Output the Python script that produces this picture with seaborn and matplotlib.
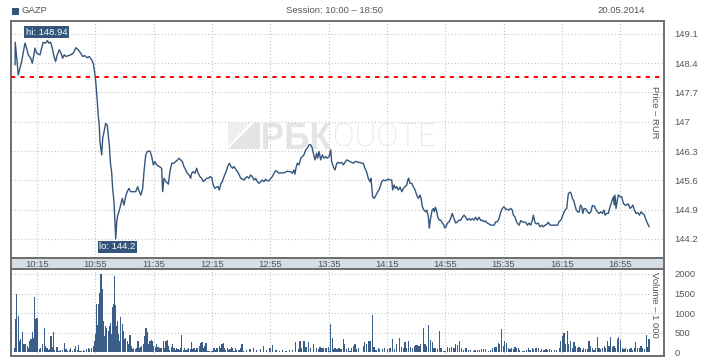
import matplotlib
matplotlib.use('Agg')
import matplotlib.pyplot as plt
import seaborn as sns
import pandas as pd
from matplotlib.patches import Rectangle, Polygon, PathPatch
from matplotlib.textpath import TextPath
from matplotlib.font_manager import FontProperties
from matplotlib.transforms import Affine2D, IdentityTransform

# ---------------- data ----------------
price_t = [0.0, 0.1, 0.9, 2.2, 4.5, 6.8, 7.9, 9.0, 10.7, 11.8, 12.9, 13.6, 14.8, 17.1, 18.2, 19.3, 21.0, 22.1, 23.2, 24.4,
           25.5, 26.7, 27.8, 28.9, 30.3, 31.5, 32.6, 33.7, 34.9, 36.5, 38.1, 39.9, 41.7, 43.3, 45.0, 46.3, 47.9, 49.5, 50.9, 52.5,
           53.6, 54.8, 55.5, 56.4, 57.0, 57.7, 58.2, 59.4, 60.1, 61.0, 62.1, 63.2, 63.9, 64.6, 65.5, 66.2, 66.9, 67.8, 68.5, 69.0,
           69.7, 70.4, 71.2, 72.4, 73.5, 74.7, 75.8, 76.9, 78.1, 79.3, 81.1, 82.7, 84.1, 85.2, 86.3, 87.5, 88.4, 89.6, 90.7, 92.5,
           93.7, 94.8, 95.9, 97.1, 98.9, 100.5, 101.2, 102.1, 103.5, 105.1, 106.2, 107.4, 109.0, 110.1, 111.5, 112.4, 113.6, 114.7, 115.8, 117.0,
           118.1, 119.3, 120.4, 121.1, 122.2, 123.4, 124.5, 125.6, 126.8, 128.0, 129.1, 130.2, 131.4, 132.5, 133.7, 134.8, 135.9, 137.1, 138.2, 139.3,
           140.0, 141.2, 142.1, 143.3, 144.7, 145.8, 146.9, 148.1, 149.2, 150.1, 151.3, 152.4, 153.5, 154.7, 155.8, 157.0, 158.1, 159.2, 160.4, 161.5,
           162.7, 163.8, 165.0, 166.1, 167.3, 168.4, 169.5, 170.7, 171.8, 172.9, 174.1, 175.3, 176.4, 177.6, 178.7, 179.8, 181.0, 182.2, 183.3, 184.4,
           185.6, 186.7, 187.9, 189.0, 190.1, 191.3, 191.9, 192.6, 193.5, 194.7, 195.9, 197.0, 198.1, 199.3, 200.4, 201.6, 202.7, 203.8, 204.5, 205.7,
           206.8, 207.5, 208.4, 209.6, 210.7, 211.9, 213.0, 214.1, 215.3, 216.4, 217.1, 218.2, 218.7, 219.4, 220.6, 221.7, 222.8, 224.0, 225.1, 226.2,
           227.4, 228.5, 229.7, 230.8, 231.9, 233.1, 234.2, 235.3, 236.5, 237.6, 238.8, 239.9, 241.0, 242.2, 243.4, 244.0, 244.7, 245.2, 246.3, 247.5,
           248.7, 249.8, 250.7, 251.4, 252.6, 253.7, 254.9, 256.0, 257.1, 258.3, 258.9, 259.9, 260.8, 261.7, 262.8, 264.0, 265.2, 266.3, 267.4, 268.6,
           269.3, 269.9, 270.8, 272.0, 273.1, 274.3, 275.4, 276.5, 277.7, 278.4, 279.3, 280.4, 281.6, 282.3, 283.4, 284.1, 284.6, 285.3, 286.0, 286.9,
           287.5, 288.2, 289.2, 289.8, 290.9, 291.9, 293.0, 294.1, 294.8, 295.5, 296.4, 297.6, 298.7, 299.8, 301.0, 302.2, 303.3, 304.4, 305.6, 306.7,
           307.9, 309.0, 310.1, 311.3, 312.5, 313.6, 314.7, 315.9, 317.0, 318.2, 319.3, 320.4, 321.6, 322.7, 323.8, 325.0, 326.2, 327.3, 328.5, 329.6,
           330.7, 331.9, 333.1, 334.1, 335.3, 336.4, 337.6, 338.7, 339.9, 341.0, 341.7, 342.8, 343.5, 344.4, 345.6, 346.8, 347.9, 349.0, 350.2, 351.3,
           352.5, 353.6, 354.7, 355.4, 356.6, 357.7, 358.8, 360.0, 361.2, 362.3, 363.4, 364.6, 365.7, 366.9, 368.5, 370.3, 372.1, 373.0, 374.2, 374.9,
           376.0, 377.2, 378.3, 379.0, 379.5, 380.6, 381.3, 382.2, 383.3, 384.5, 385.6, 386.8, 387.7, 388.6, 389.3, 390.2, 391.4, 392.5, 393.7, 394.8,
           395.9, 397.1, 398.2, 399.3, 400.5, 401.6, 402.7, 403.9, 404.6, 405.7, 406.8, 408.0, 409.2, 410.3, 410.9, 411.4, 412.1, 413.0, 413.7, 414.8,
           416.0, 417.1, 418.3, 419.4, 420.5, 421.7, 422.9, 423.6, 424.7, 425.8, 427.0, 428.1, 429.3, 430.2, 431.3, 432.5, 433.6, 434.8]
price_v = [148.36, 148.90, 148.60, 148.12, 148.44, 148.88, 148.76, 148.60, 148.52, 148.40, 148.60, 148.76, 148.64, 148.60, 148.76, 148.90, 148.88, 148.94, 148.88, 148.90,
           148.76, 148.56, 148.44, 148.60, 148.72, 148.64, 148.52, 148.60, 148.56, 148.58, 148.60, 148.64, 148.77, 148.72, 148.64, 148.56, 148.58, 148.53, 148.56, 148.48,
           148.40, 148.12, 147.88, 147.48, 147.16, 146.92, 146.52, 146.21, 146.61, 146.76, 146.96, 146.92, 146.68, 146.45, 145.97, 145.81, 145.41, 145.09, 144.61, 144.20,
           144.61, 144.77, 144.85, 145.01, 145.17, 145.01, 145.21, 145.33, 145.41, 145.33, 145.33, 145.33, 145.45, 145.33, 145.25, 145.41, 145.81, 146.21, 146.29, 146.30,
           146.17, 145.97, 146.05, 145.97, 145.93, 145.89, 145.33, 145.65, 145.57, 145.51, 145.81, 146.01, 146.01, 146.05, 146.09, 146.13, 146.09, 146.05, 145.93, 145.85,
           145.77, 145.73, 145.65, 145.77, 145.81, 145.77, 145.89, 145.77, 145.69, 145.65, 145.57, 145.61, 145.65, 145.65, 145.69, 145.67, 145.49, 145.41, 145.44, 145.45,
           145.37, 145.53, 145.57, 145.69, 145.81, 145.93, 146.01, 145.93, 145.89, 145.93, 145.87, 145.81, 145.75, 145.65, 145.63, 145.61, 145.66, 145.69, 145.65, 145.73,
           145.69, 145.61, 145.65, 145.57, 145.53, 145.57, 145.61, 145.57, 145.63, 145.59, 145.59, 145.65, 145.69, 145.77, 145.83, 145.81, 145.77, 145.78, 145.78, 145.78,
           145.80, 145.82, 145.81, 145.81, 145.77, 145.85, 145.75, 145.89, 146.01, 145.97, 146.13, 146.17, 146.21, 146.33, 146.37, 146.45, 146.45, 146.37, 146.25, 146.09,
           146.25, 146.13, 146.29, 146.09, 146.21, 146.13, 146.17, 146.13, 146.17, 146.33, 146.05, 145.93, 145.89, 145.85, 146.01, 146.03, 146.01, 146.03, 145.97, 146.03,
           146.09, 146.07, 146.05, 146.03, 146.01, 146.05, 146.05, 146.03, 146.03, 146.01, 146.01, 145.89, 145.81, 145.65, 145.57, 145.65, 145.41, 145.21, 145.17, 145.25,
           145.33, 145.39, 145.49, 145.57, 145.61, 145.59, 145.61, 145.63, 145.61, 145.61, 145.37, 145.49, 145.41, 145.45, 145.37, 145.44, 145.33, 145.41, 145.45, 145.49,
           145.61, 145.65, 145.53, 145.53, 145.45, 145.37, 145.25, 145.17, 145.25, 145.17, 144.97, 144.89, 144.85, 144.89, 144.73, 144.46, 144.61, 144.77, 144.89, 144.93,
           144.85, 144.96, 144.85, 144.73, 144.65, 144.65, 144.58, 144.53, 144.46, 144.49, 144.58, 144.61, 144.69, 144.81, 144.69, 144.58, 144.61, 144.65, 144.65, 144.72,
           144.77, 144.72, 144.65, 144.69, 144.65, 144.69, 144.65, 144.72, 144.65, 144.72, 144.64, 144.65, 144.61, 144.63, 144.58, 144.56, 144.53, 144.53, 144.53, 144.61,
           144.61, 144.69, 144.85, 144.93, 144.97, 144.91, 144.91, 144.89, 144.93, 144.89, 144.77, 144.73, 144.65, 144.58, 144.53, 144.64, 144.61, 144.60, 144.60, 144.53,
           144.58, 144.53, 144.65, 144.77, 144.58, 144.56, 144.58, 144.49, 144.53, 144.49, 144.53, 144.55, 144.60, 144.53, 144.53, 144.53, 144.53, 144.61, 144.65, 144.69,
           144.81, 144.89, 144.93, 145.17, 145.29, 145.32, 145.29, 145.17, 145.09, 144.93, 144.85, 144.84, 145.01, 144.97, 144.81, 144.93, 144.92, 144.85, 144.81, 144.85,
           145.00, 144.99, 144.91, 144.85, 144.81, 144.85, 144.81, 144.89, 144.77, 144.81, 144.81, 144.97, 145.09, 145.21, 145.01, 145.25, 144.93, 145.13, 145.25, 145.21,
           145.21, 145.05, 145.01, 145.01, 145.04, 144.93, 144.97, 145.01, 144.89, 144.81, 144.83, 144.77, 144.85, 144.81, 144.79, 144.67, 144.58, 144.49]

vol_t = [-0.3, 0.4, 1.1, 2.2, 2.9, 4.0, 4.9, 6.1, 7.2, 8.4, 9.3, 10.2, 10.9, 11.8, 12.5, 13.2, 13.9, 15.0, 15.5, 16.6,
         17.7, 18.9, 20.0, 20.9, 21.9, 23.0, 23.9, 24.6, 25.3, 26.2, 26.9, 28.3, 29.2, 30.1, 31.2, 32.4, 33.7, 34.9, 36.0, 37.2,
         38.3, 39.5, 40.6, 41.7, 42.9, 43.3, 44.5, 45.6, 46.8, 47.9, 49.1, 50.2, 51.3, 52.5, 53.6, 54.8, 55.5, 56.1, 56.8, 57.5,
         58.2, 58.9, 59.6, 60.3, 61.2, 62.1, 63.0, 63.9, 64.6, 65.5, 66.2, 66.9, 67.6, 68.3, 69.0, 69.6, 70.3, 71.0, 71.7, 72.6,
         73.5, 74.2, 75.1, 76.0, 76.9, 77.9, 78.8, 79.7, 80.6, 81.5, 82.4, 83.3, 84.3, 85.2, 86.1, 87.0, 87.9, 88.8, 89.8, 90.7,
         91.6, 92.5, 93.4, 94.3, 95.2, 96.2, 97.1, 98.0, 98.9, 99.8, 100.7, 101.6, 102.6, 103.5, 104.4, 105.3, 106.2, 107.1, 108.0, 109.0,
         109.9, 110.8, 111.7, 112.6, 113.5, 114.4, 115.4, 116.3, 117.2, 118.1, 119.0, 120.0, 120.9, 121.8, 122.7, 123.6, 124.5, 125.4, 126.3, 127.3,
         128.2, 129.1, 130.0, 130.9, 131.8, 132.7, 133.6, 134.6, 135.5, 136.4, 137.3, 138.2, 139.1, 140.1, 141.0, 141.9, 142.8, 143.7, 144.6, 145.5,
         146.5, 147.4, 148.3, 149.2, 150.1, 151.0, 151.9, 152.9, 153.8, 154.7, 155.6, 156.5,
         158.8, 161.1, 163.4, 165.7, 168.0, 170.2, 172.5, 174.8, 176.6, 178.9, 181.2, 183.5, 185.8, 188.1, 190.3, 192.6, 194.2, 195.4, 196.7, 198.1,
         199.5, 201.1, 202.7, 204.5, 206.4, 208.0, 209.1, 210.5, 211.8, 213.2, 214.8, 215.7, 216.6, 217.6, 218.5, 219.4, 220.3, 221.2, 222.1, 223.0,
         224.0, 225.1, 226.2, 227.4, 228.5, 229.7, 230.8, 232.0, 233.1, 234.2, 235.4,
         238.8, 239.9, 241.1, 242.7, 243.8, 245.0, 246.1, 247.5, 249.1, 250.2, 251.8, 253.6, 255.2, 257.1, 258.7, 260.1, 261.6, 263.5, 264.8, 266.2,
         267.4, 268.5, 269.7, 271.3, 272.4, 273.8, 274.9, 275.8, 277.0, 278.1, 279.9, 281.1, 282.2, 283.8, 285.0, 286.1, 287.3, 288.4, 289.8, 290.9,
         292.1, 293.7, 294.8, 296.4, 297.8, 299.4, 301.0, 302.3, 303.5, 304.6, 306.2, 307.8, 309.2, 310.8, 312.4, 314.2, 315.4, 317.0, 318.3, 320.0,
         321.5, 322.9, 324.5, 326.1, 327.5, 329.1, 330.2, 331.4, 332.5, 333.7, 334.8, 335.9, 337.1, 338.2, 339.4, 340.5, 341.7, 342.8, 344.0, 345.1,
         346.2, 347.8, 349.0, 350.4, 352.0, 353.1, 354.7, 355.8, 357.2, 358.8, 360.0, 361.1, 362.7, 364.1, 365.0, 366.4, 368.0, 369.6, 371.4, 373.2,
         374.1, 375.3, 376.4, 377.6, 378.7, 379.8, 381.0, 382.1, 383.3, 384.4, 385.6, 386.7, 387.8, 389.0, 390.1, 391.3, 392.4, 393.6, 394.7, 395.8,
         397.0, 398.1, 399.3, 400.4, 401.6, 402.7, 403.9, 405.0, 406.1, 407.3, 408.4, 409.6, 410.7, 411.9, 413.0, 414.1, 415.3, 416.4, 417.6, 418.7,
         419.9, 421.2, 422.4, 423.5, 424.7, 425.6, 426.7, 427.9, 429.2, 430.4, 431.5, 432.7, 433.6, 434.7]
vol_v = [110, 850, 1500, 930, 300, 340, 525, 210, 210, 170, 110, 300, 340, 525, 380, 1415, 850, 865, 85, 85,
         110, 210, 635, 170, 110, 60, 85, 425, 145, 510, 60, 145, 145, 40, 60, 60, 230, 85, 40, 60,
         110, 25, 85, 170, 60, 195, 40, 40, 60, 40, 85, 110, 85, 125, 170, 300, 480, 1230, 695, 1230,
         1525, 2010, 1610, 805, 425, 680, 635, 550, 680, 760, 465, 1160, 1230, 1950, 1210, 680, 805, 465, 300, 905,
         735, 535, 340, 365, 300, 210, 450, 170, 85, 110, 85, 110, 280, 110, 145, 170, 210, 425, 635, 510,
         210, 300, 315, 280, 170, 145, 210, 145, 125, 125, 110, 300, 110, 300, 315, 170, 60, 145, 210, 110,
         60, 110, 85, 60, 110, 450, 60, 110, 60, 85, 110, 85, 255, 85, 110, 60, 110, 110, 170, 230,
         255, 110, 170, 230, 40, 40, 40, 40, 40, 110, 60, 110, 110, 170, 110, 210, 230, 125, 60, 110,
         60, 85, 145, 110, 40, 110, 60, 60, 60, 110, 210, 40,
         60, 85, 110, 60, 85, 170, 60, 110, 195, 60, 40, 60, 40, 60, 60, 255, 85, 280, 110, 300,
         145, 255, 110, 210, 110, 85, 145, 110, 110, 110, 145, 40, 720, 365, 85, 110, 85, 85, 110, 85,
         85, 340, 210, 85, 125, 40, 110, 170, 210, 85, 110,
         170, 255, 210, 300, 300, 955, 145, 60, 110, 85, 85, 110, 85, 110, 355, 85, 210, 365, 145, 110,
         255, 125, 280, 145, 110, 170, 195, 195, 170, 210, 635, 210, 170, 705, 315, 255, 110, 110, 85, 535,
         110, 40, 40, 145, 110, 145, 110, 210, 195, 300, 110, 60, 110, 60, 60, 40, 60, 60, 60, 85,
         85, 85, 25, 60, 110, 145, 145, 230, 210, 610, 170, 300, 230, 110, 85, 110, 85, 145, 125, 110,
         60, 25, 40, 60, 110, 60, 110, 85, 125, 110, 40, 85, 60, 85, 60, 85, 60, 60, 60, 110,
         300, 425, 485, 210, 550, 210, 300, 125, 255, 170, 110, 145, 110, 60, 110, 85, 85, 300, 170, 110,
         60, 110, 400, 110, 85, 110, 170, 110, 300, 170, 400, 145, 170, 110, 340, 400, 315, 110, 85, 110,
         85, 85, 110, 60, 110, 255, 110, 110, 170, 110, 85, 450, 145, 340]

time_ticks = [15, 55, 95, 135, 175, 215, 255, 295, 335, 375, 415]
time_labels = ['10:15', '10:55', '11:35', '12:15', '12:55', '13:35', '14:15', '14:55', '15:35', '16:15', '16:55']
price_ticks = [144.2, 144.9, 145.6, 146.3, 147.0, 147.7, 148.4, 149.1]
price_labels = ['144.2', '144.9', '145.6', '146.3', '147', '147.7', '148.4', '149.1']
vol_ticks = [0, 500, 1000, 1500, 2000]
prev_close = 148.08
hi_t, hi_p = 22.1, 148.94
lo_t, lo_p = 69.0, 144.2
ticker = 'GAZP'
session = 'Session: 10:00 \u2013 18:50'
date_str = '20.05.2014'

# ---------------- style ----------------
sns.set_style('white')
plt.rcParams['font.family'] = ['Liberation Sans', 'DejaVu Sans']

W, H = 718, 360
fig = plt.figure(figsize=(W / 100, H / 100), dpi=100)


def fx(x):
    return x / W


def fy(y):
    return 1 - y / H


LINE = '#34567c'
BAR = '#3a5e87'
FRAME = '#6e6e6e'
TXT = '#555555'
GRID = '#c4c4c4'
WM = '#e4e4e4'
XL, XR = 11, 664
xlim = (-2.8, 445.0)

ax = fig.add_axes([fx(XL), fy(258), fx(XR) - fx(XL), fy(21) - fy(258)])
band = fig.add_axes([fx(XL), fy(269), fx(XR) - fx(XL), fy(258) - fy(269)])
axv = fig.add_axes([fx(XL), fy(356), fx(XR) - fx(XL), fy(269) - fy(356)])

# price line
df = pd.DataFrame({'t': price_t, 'p': price_v})
sns.lineplot(data=df, x='t', y='p', ax=ax, color=LINE, lw=1.0, sort=False, estimator=None, zorder=3)
ax.axhline(prev_close, color='#ff0000', lw=1.4, ls=(0, (2.2, 2.6)), zorder=4)
ax.set_xlim(*xlim)
ax.set_ylim(143.746, 149.408)
ax.set_autoscale_on(False)
ax.set_xticks(time_ticks)
ax.set_xticklabels([])
ax.set_yticks(price_ticks)
ax.set_yticklabels(price_labels)
ax.yaxis.tick_right()
ax.tick_params(axis='y', length=0, pad=7.5, labelsize=6.8, labelcolor=TXT)
ax.tick_params(axis='x', length=0)
ax.grid(True, color=GRID, lw=0.8, ls=(0, (1, 2)))
ax.set_xlabel('')
ax.set_ylabel('')


# watermark (pixel boxes inside the price panel)
def fit_text(axis, s, box, prop, color):
    x0, y0, x1, y1 = box
    tp = TextPath((0, 0), s, size=10, prop=prop)
    ext = tp.get_extents()
    tr = Affine2D().translate(-ext.x0, -ext.y0).scale((x1 - x0) / ext.width, (y1 - y0) / ext.height).translate(x0, H - y1)
    axis.add_patch(PathPatch(tr.transform_path(tp), fc=color, ec='none', transform=IdentityTransform(), zorder=0.2))


fit_text(ax, '\u0420\u0411\u041a', (263, 123, 331, 149), FontProperties(family='Liberation Sans', weight='bold'), WM)
fit_text(ax, 'QUOTE', (335, 123, 435, 150), FontProperties(family='Roboto', weight='light'), WM)
ax.add_patch(Polygon([(228, H - 149), (254, H - 123), (260, H - 123), (260, H - 149)], closed=True,
                     transform=IdentityTransform(), fc=WM, ec='none', zorder=0.2))
ax.add_patch(Polygon([(228, H - 146), (228, H - 123), (250, H - 123)], closed=True,
                     transform=IdentityTransform(), fc='#efefef', ec='none', zorder=0.2))

# hi / lo labels
box = dict(boxstyle='square,pad=0.15', fc='#34567c', ec='none')
ax.text(7.3, 149.14, 'hi: %.2f' % hi_p, color='white', fontsize=6.8, ha='left', va='center', bbox=box, zorder=5)
ax.text(57.8, 144.01, 'lo: %s' % lo_p, color='white', fontsize=6.8, ha='left', va='center', bbox=box, zorder=5)

# right axis title
ax.text(0.985, 0.615, 'Price \u2013 RUR', transform=ax.transAxes, rotation=-90, ha='center', va='center',
        fontsize=6.8, color=TXT)

# band with times
band.set_facecolor('#d5dee7')
band.set_xlim(*xlim)
band.set_ylim(0, 1)
band.set_xticks([])
band.set_yticks([])
for t, lab in zip(time_ticks, time_labels):
    band.text(t, 0.45, lab, ha='center', va='center', fontsize=6.8, color=TXT)

# volume bars
axv.bar(vol_t, vol_v, width=0.75, color=BAR, linewidth=0)
axv.set_xlim(*xlim)
axv.set_ylim(-90, 2125)
axv.set_xticks(time_ticks)
axv.set_xticklabels([])
axv.set_yticks(vol_ticks)
axv.set_yticklabels([str(v) for v in vol_ticks])
axv.yaxis.tick_right()
axv.tick_params(axis='y', length=0, pad=7.5, labelsize=6.8, labelcolor=TXT)
axv.tick_params(axis='x', length=0)
axv.grid(True, color=GRID, lw=0.8, ls=(0, (1, 2)))
for gl in axv.get_ygridlines():
    if abs(gl.get_ydata()[0]) < 1:
        gl.set_visible(False)
axv.text(0.985, 0.59, 'Volume \u2013 1 000', transform=axv.transAxes, rotation=-90, ha='center', va='center',
         fontsize=6.8, color=TXT)

for a in (ax, band, axv):
    for s in a.spines.values():
        s.set_color(FRAME)
        s.set_linewidth(1.4)
    a.set_axisbelow(True)

# header
fig.patches.append(Rectangle((fx(12), fy(15)), fx(7), 7 / H, transform=fig.transFigure, fc='#34567c', ec='none'))
fig.text(fx(21), fy(10.5), ticker, fontsize=6.8, color=TXT, ha='left', va='center')
fig.text(fx(335), fy(10.5), session, fontsize=6.8, color=TXT, ha='center', va='center')
fig.text(fx(645), fy(10.5), date_str, fontsize=6.8, color=TXT, ha='right', va='center')

fig.savefig('out.png', dpi=100, facecolor='white')
